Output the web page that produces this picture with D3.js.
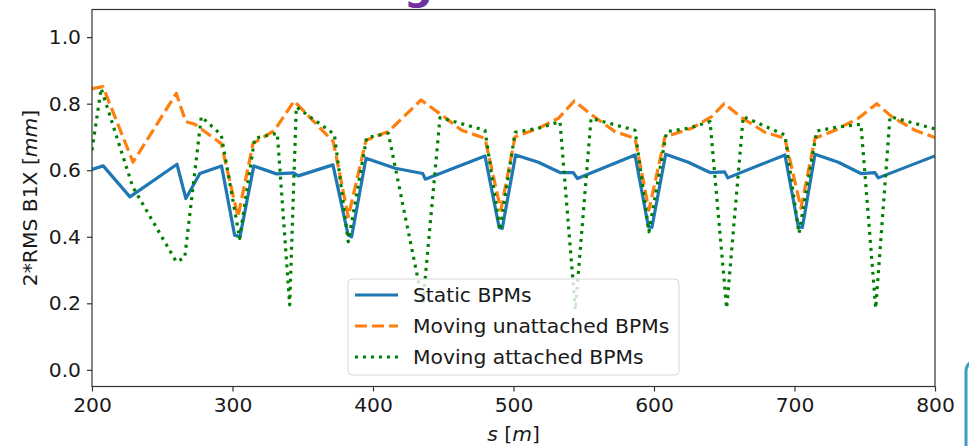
<!DOCTYPE html>
<html>
<head>
<meta charset="utf-8">
<script src="https://cdn.jsdelivr.net/npm/d3@7"></script>
<style>
  body { margin: 0; background: #fff; }
  svg text { font-family: "DejaVu Sans", sans-serif; fill: #1a1a1a; }
</style>
</head>
<body>
<div id="chart"></div>
<script>
// s positions [m] and 2*RMS values [mm] for each series
let static_s = [200, 208, 227, 260.5, 266.8, 276.8, 292.2, 301.5, 305.3, 315.2,
    331.3, 343.5, 346.8, 371.5, 382.3, 384.8, 395, 415.7, 435.4, 437.2,
    479.7, 489.8, 492, 501.5, 517.7, 533.1, 542.6, 545.5, 586.5, 596,
    598.5, 608.3, 624.4, 639.9, 650.3, 652.5, 693.2, 702.7, 705.6, 714.6,
    731.2, 747.3, 757.3, 759.6, 800];
let static_v = [0.602, 0.613, 0.52, 0.618, 0.515, 0.59, 0.613, 0.405, 0.4, 0.613,
    0.589, 0.592, 0.583, 0.616, 0.405, 0.4, 0.636, 0.606, 0.59, 0.573,
    0.643, 0.428, 0.425, 0.646, 0.624, 0.593, 0.593, 0.575, 0.646, 0.43,
    0.428, 0.648, 0.624, 0.593, 0.595, 0.577, 0.646, 0.43, 0.428, 0.648,
    0.624, 0.59, 0.593, 0.577, 0.643];

let unatt_s = [200, 207.8, 229.2, 260, 266.7, 273.1, 292, 303.9, 314.6, 330,
    343.8, 371.7, 382.4, 395, 410.9, 434.2, 448.9, 463.1, 479.7, 491,
    501.1, 517.7, 531.9, 543.3, 555.7, 572.2, 586.5, 596.4, 607.8, 626.8,
    641, 650, 662.4, 679, 693.2, 704.6, 714.6, 728.8, 745.4, 758.5,
    769.2, 785.8, 800];
let unatt_v = [0.845, 0.851, 0.624, 0.831, 0.746, 0.738, 0.68, 0.46, 0.68, 0.72,
    0.808, 0.686, 0.46, 0.69, 0.716, 0.811, 0.766, 0.72, 0.696, 0.48,
    0.70, 0.726, 0.756, 0.808, 0.766, 0.716, 0.696, 0.48, 0.70, 0.726,
    0.761, 0.80, 0.758, 0.714, 0.696, 0.486, 0.696, 0.72, 0.756, 0.80,
    0.761, 0.72, 0.698];

let att_s = [200, 206.5, 229, 260, 266, 277.8, 292, 305.1, 315.8, 331.9,
    340.7, 345.4, 372.5, 382.4, 395.5, 410.9, 435.5, 447.7, 479.7, 490.4,
    501.1, 517.7, 533.1, 544, 555.2, 586.5, 596.4, 609, 624.4, 639.9,
    651.7, 663.5, 693.2, 703.2, 715.8, 731.2, 747.3, 757.8, 768, 800];
let att_v = [0.66, 0.846, 0.55, 0.325, 0.337, 0.761, 0.706, 0.395, 0.696, 0.711,
    0.195, 0.79, 0.708, 0.385, 0.698, 0.711, 0.2, 0.758, 0.72, 0.42,
    0.714, 0.726, 0.746, 0.18, 0.756, 0.72, 0.415, 0.716, 0.726, 0.746,
    0.185, 0.761, 0.706, 0.41, 0.718, 0.73, 0.738, 0.185, 0.761, 0.724];

let x_ticks = [200, 300, 400, 500, 600, 700, 800];
let y_ticks = [0.0, 0.2, 0.4, 0.6, 0.8, 1.0];
let legend_labels = ['Static BPMs', 'Moving unattached BPMs', 'Moving attached BPMs'];

let chart_width = 969;
let chart_height = 446;
let margin = { left: 92, top: 9.5, right: 34, bottom: 59.5 };
let plot_w = chart_width - margin.left - margin.right;
let plot_h = chart_height - margin.top - margin.bottom;
let font_size = 20.3;

let svg = d3.select('#chart')
    .append('svg')
    .attr('width', chart_width)
    .attr('height', chart_height);

// slide leftovers around the figure (title cut by the crop, frame edge)
svg.append('text')
    .attr('x', 404)
    .attr('y', -1)
    .attr('font-size', 40)
    .attr('font-weight', 'bold')
    .style('fill', '#7030a0')
    .text('g');
svg.append('path')
    .attr('d', 'M966,446 L966,372 Q966,364 972,362')
    .attr('fill', 'none')
    .attr('stroke', '#3a9cc8')
    .attr('stroke-width', 3);

let x_scale = d3.scaleLinear()
    .domain([200, 800])
    .range([0, plot_w]);

let y_scale = d3.scaleLinear()
    .domain([-0.05, 1.083])
    .range([plot_h, 0]);

let g = svg.append('g')
    .attr('transform', 'translate(' + margin.left + ',' + margin.top + ')');

g.append('clipPath')
    .attr('id', 'clip')
    .append('rect')
    .attr('width', plot_w)
    .attr('height', plot_h);

// Axes
let x_axis = d3.axisBottom(x_scale)
    .tickValues(x_ticks)
    .tickSize(5)
    .tickPadding(6)
    .tickFormat(d3.format('d'));
let y_axis = d3.axisLeft(y_scale)
    .tickValues(y_ticks)
    .tickSize(5)
    .tickPadding(6)
    .tickFormat(d3.format('.1f'));

let gx = g.append('g')
    .attr('transform', 'translate(0,' + plot_h + ')')
    .call(x_axis);
let gy = g.append('g').call(y_axis);

[gx, gy].forEach(function(a) {
    a.select('.domain').remove();
    a.selectAll('line').attr('stroke', '#333').attr('stroke-width', 1.2);
    a.selectAll('text')
        .attr('font-size', font_size)
        .style('font-family', '"DejaVu Sans", sans-serif')
        .style('fill', '#1a1a1a');
});

// Lines
let line = d3.line()
    .x(function(d) { return x_scale(d[0]); })
    .y(function(d) { return y_scale(d[1]); });

let series = [
    { s: static_s, v: static_v, color: '#1f77b4', dash: null },
    { s: unatt_s, v: unatt_v, color: '#ff7f0e', dash: '12,5' },
    { s: att_s, v: att_v, color: '#008000', dash: '3,5' }
];

let lines_g = g.append('g').attr('clip-path', 'url(#clip)');
series.forEach(function(d) {
    lines_g.append('path')
        .datum(d3.zip(d.s, d.v))
        .attr('d', line)
        .attr('fill', 'none')
        .attr('stroke', d.color)
        .attr('stroke-width', 3.2)
        .attr('stroke-linejoin', 'round')
        .attr('stroke-dasharray', d.dash);
});

// Frame
g.append('rect')
    .attr('width', plot_w)
    .attr('height', plot_h)
    .attr('fill', 'none')
    .attr('stroke', '#333')
    .attr('stroke-width', 1.2);

// Axis labels
let xl = svg.append('text')
    .attr('x', margin.left + plot_w / 2)
    .attr('y', 441)
    .attr('text-anchor', 'middle')
    .attr('font-size', font_size);
xl.append('tspan').attr('font-style', 'italic').text('s');
xl.append('tspan').text(' [');
xl.append('tspan').attr('font-style', 'italic').text('m');
xl.append('tspan').text(']');

let yl = svg.append('text')
    .attr('transform', 'translate(37,' + (margin.top + plot_h / 2) + ') rotate(-90)')
    .attr('text-anchor', 'middle')
    .attr('font-size', font_size);
yl.append('tspan').text('2*RMS B1X [');
yl.append('tspan').attr('font-style', 'italic').text('mm');
yl.append('tspan').text(']');

// Legend
let legend = svg.append('g').attr('transform', 'translate(348,279)');
legend.append('rect')
    .attr('width', 331)
    .attr('height', 96)
    .attr('rx', 4)
    .attr('fill', '#fff')
    .attr('fill-opacity', 0.8)
    .attr('stroke', '#d6d6d6')
    .attr('stroke-width', 1);

series.forEach(function(d, i) {
    let ly = 16 + i * 31;
    legend.append('line')
        .attr('x1', 7)
        .attr('x2', 50)
        .attr('y1', ly)
        .attr('y2', ly)
        .attr('stroke', d.color)
        .attr('stroke-width', 3.2)
        .attr('stroke-dasharray', d.dash);
    legend.append('text')
        .attr('x', 65)
        .attr('y', ly + 7)
        .attr('font-size', font_size)
        .text(legend_labels[i]);
});
</script>
</body>
</html>
